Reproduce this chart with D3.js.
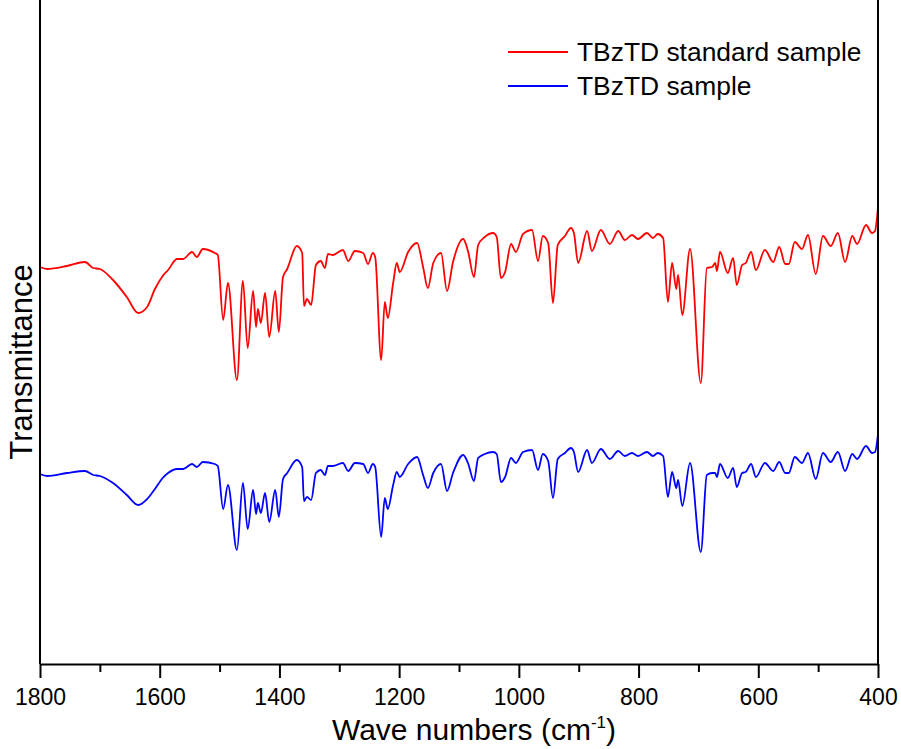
<!DOCTYPE html>
<html>
<head>
<meta charset="utf-8">
<script src="https://cdn.jsdelivr.net/npm/d3@7"></script>
<style>
  body { margin: 0; background: #fff; }
  svg { display: block; font-family: Arial, "Liberation Sans", sans-serif; }
</style>
</head>
<body>
<svg></svg>
<script>
// Width and height of the picture
var width = 901;
var height = 749;
var margin = {top: 0, right: 23, bottom: 85, left: 40};

// wave numbers (cm-1), shared by both spectra
var waveNumbers = [1800, 1788, 1755, 1725, 1711, 1700, 1678, 1655, 1636, 1621, 1608, 1595, 1586, 1571, 1561, 1546, 1538, 1528, 1508, 1503,
  1494, 1486, 1471, 1461, 1453, 1444, 1439, 1436, 1431, 1424, 1417, 1407, 1401, 1394, 1387, 1371, 1362, 1359, 1354, 1347,
  1339, 1331, 1324, 1319, 1311, 1294, 1285, 1274, 1260, 1252, 1244, 1240, 1230, 1224, 1219, 1210, 1204, 1199, 1185, 1170,
  1160, 1152, 1143, 1130, 1120, 1110, 1093, 1085, 1075, 1068, 1057, 1043, 1037, 1030, 1023, 1013, 1005, 993, 978, 968,
  960, 951, 943, 935, 923, 913, 908, 901, 886, 878, 863, 848, 834, 823, 811, 801, 786, 776, 768, 759,
  751, 744, 737, 734, 727, 714, 696, 686, 677, 672, 669, 664, 651, 642, 636, 627, 621, 612, 604, 589,
  575, 565, 555, 549, 539, 527, 517, 504, 492, 479, 467, 455, 443, 435, 420, 410, 405, 400];

// transmittance (arbitrary units, curves are offset)
var standardValues = [397, 395, 398, 402, 396, 395, 384, 367, 351, 357, 375, 388, 394, 405, 405, 412, 407, 415, 411, 409,
  344, 381, 284, 383, 316, 373, 337, 355, 341, 371, 327, 373, 332, 387, 395, 418, 411, 358, 365, 359,
  399, 403, 396, 410, 409, 414, 403, 413, 411, 400, 411, 407, 304, 362, 346, 381, 401, 392, 412, 421,
  397, 376, 401, 411, 373, 402, 425, 413, 387, 419, 427, 431, 427, 386, 392, 420, 412, 430, 434, 403,
  428, 421, 361, 419, 428, 436, 431, 401, 433, 413, 434, 420, 433, 424, 429, 425, 431, 426, 430, 426,
  362, 401, 375, 389, 349, 415, 281, 396, 397, 401, 393, 412, 391, 406, 379, 399, 401, 412, 394, 414,
  402, 417, 400, 400, 422, 415, 429, 390, 428, 418, 431, 402, 428, 420, 439, 431, 433, 457];

var sampleValues = [190, 188, 191, 193, 189, 188, 181, 169, 159, 165, 175, 186, 191, 195, 195, 200, 197, 202, 200, 198,
  155, 179, 114, 181, 135, 174, 150, 161, 151, 171, 142, 174, 147, 185, 191, 204, 197, 163, 167, 164,
  191, 194, 189, 198, 198, 201, 193, 201, 200, 191, 200, 197, 127, 166, 155, 179, 192, 187, 200, 207,
  189, 176, 191, 200, 173, 191, 209, 201, 183, 206, 210, 212, 210, 182, 187, 206, 201, 212, 214, 194,
  210, 203, 166, 205, 211, 216, 212, 192, 214, 201, 215, 205, 213, 208, 211, 208, 212, 208, 211, 208,
  167, 192, 176, 184, 158, 201, 112, 189, 191, 191, 187, 200, 186, 196, 177, 191, 192, 200, 187, 201,
  193, 202, 191, 191, 207, 201, 211, 185, 211, 202, 212, 193, 210, 205, 218, 211, 212, 230];

var seriesNames = ["TBzTD standard sample", "TBzTD sample"];
var seriesColors = ["#ff0000", "#0000ff"];
var xTicks = [1800, 1600, 1400, 1200, 1000, 800, 600, 400];

var svg = d3.select("svg")
    .attr("width", width)
    .attr("height", height);

var x = d3.scaleLinear()
    .domain([1800, 400])
    .range([margin.left, width - margin.right]);

var y = d3.scaleLinear()
    .domain([0, 664])
    .range([height - margin.bottom, margin.top]);

var series = [standardValues, sampleValues].map(function(vals, i) {
    return {
        name: seriesNames[i],
        color: seriesColors[i],
        points: waveNumbers.map(function(w, j) { return [w, vals[j]]; })
    };
});

var line = d3.line()
    .x(function(d) { return x(d[0]); })
    .y(function(d) { return y(d[1]); })
    .curve(d3.curveMonotoneX);

svg.selectAll("path.spectrum")
    .data(series)
    .enter().append("path")
    .attr("class", "spectrum")
    .attr("d", function(d) { return line(d.points); })
    .attr("fill", "none")
    .attr("stroke", function(d) { return d.color; })
    .attr("stroke-width", 1.8)
    .attr("stroke-linejoin", "round");

// minor ticks every 100
var xAxisMinor = svg.append("g")
    .attr("transform", "translate(0," + y(0) + ")")
    .call(d3.axisBottom(x).tickValues(d3.range(1700, 400, -200)).tickSize(8).tickFormat(""));
xAxisMinor.select(".domain").remove();
xAxisMinor.selectAll("line").attr("stroke-width", 2);

var xAxis = svg.append("g")
    .attr("transform", "translate(0," + y(0) + ")")
    .call(d3.axisBottom(x).tickValues(xTicks).tickSize(14).tickSizeOuter(0).tickPadding(11)
        .tickFormat(d3.format("d")));
xAxis.select(".domain").attr("stroke-width", 2);
xAxis.selectAll("line").attr("stroke-width", 2);
xAxis.selectAll("text")
    .style("font-size", "23px")
    .style("font-family", "Arial, 'Liberation Sans', sans-serif")
    .attr("fill", "#000");

// left and right frame lines
svg.append("line")
    .attr("x1", x(1800)).attr("x2", x(1800))
    .attr("y1", y(664)).attr("y2", y(0))
    .attr("stroke", "#000").attr("stroke-width", 2);
svg.append("line")
    .attr("x1", x(400)).attr("x2", x(400))
    .attr("y1", y(664)).attr("y2", y(0))
    .attr("stroke", "#000").attr("stroke-width", 2);

// axis titles
var xTitle = svg.append("text")
    .attr("x", 474)
    .attr("y", 740)
    .attr("text-anchor", "middle")
    .style("font-size", "30px");
xTitle.append("tspan").text("Wave numbers (cm");
xTitle.append("tspan").attr("dy", -12).style("font-size", "17px").text("-1");
xTitle.append("tspan").attr("dy", 12).text(")");

svg.append("text")
    .attr("transform", "translate(32,362) rotate(-90)")
    .attr("text-anchor", "middle")
    .style("font-size", "31px")
    .text("Transmittance");

// legend
var legend = svg.selectAll("g.legend")
    .data(series)
    .enter().append("g")
    .attr("class", "legend")
    .attr("transform", function(d, i) { return "translate(508," + (52 + i * 34) + ")"; });

legend.append("line")
    .attr("x1", 0).attr("x2", 60)
    .attr("stroke", function(d) { return d.color; })
    .attr("stroke-width", 1.8);

legend.append("text")
    .attr("x", 69)
    .attr("y", 9)
    .style("font-size", "26.4px")
    .text(function(d) { return d.name; });
</script>
</body>
</html>
